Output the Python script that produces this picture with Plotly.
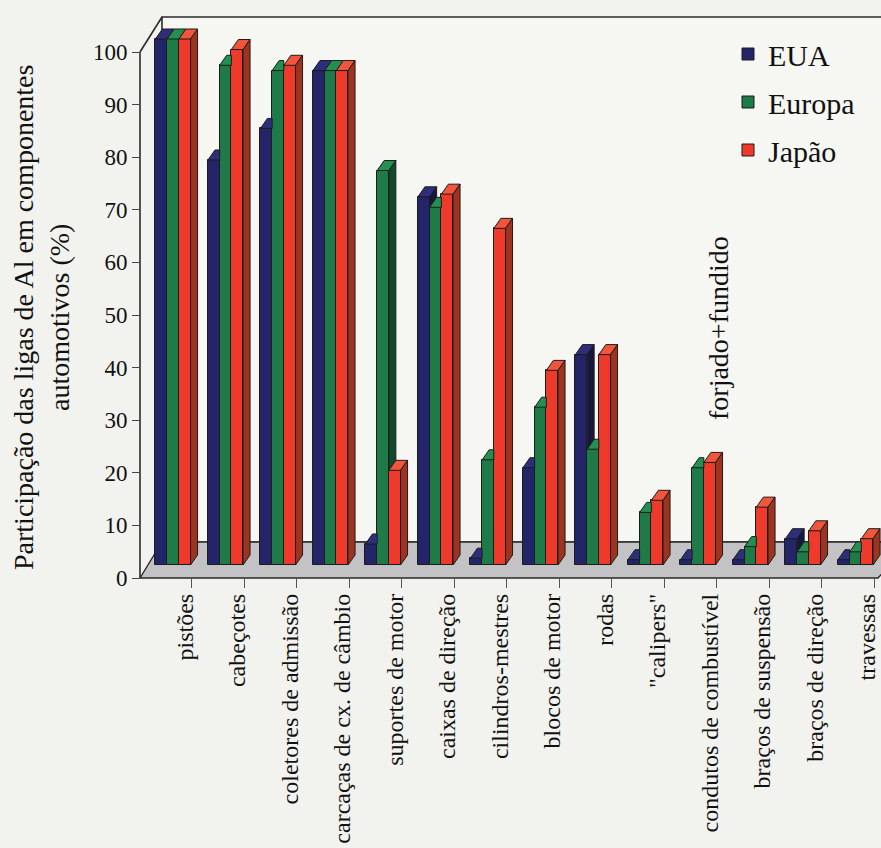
import plotly.graph_objects as go

# --- data -------------------------------------------------------------
categories = [
    "pistões", "cabeçotes", "coletores de admissão", "carcaças de cx. de câmbio",
    "suportes de motor", "caixas de direção", "cilindros-mestres", "blocos de motor",
    "rodas", "\"calipers\"", "condutos de combustível", "braços de suspensão",
    "braços de direção", "travessas",
]
eua = [100, 77, 83, 94, 4, 70, 1.3, 18.5, 40, 1, 1, 1, 5, 1]
europa = [100, 95, 94, 94, 75, 68, 20, 30, 22, 10, 18.5, 3.5, 2.5, 2.5]
japao = [100, 98, 95, 94, 18, 70.5, 64, 37, 40, 12.3, 19.5, 11, 6.5, 5]
series_names = ["EUA", "Europa", "Japão"]
y_ticks = list(range(0, 101, 10))

# --- styling ----------------------------------------------------------
FONT = "Liberation Serif"
BG = "#f2f2ee"
EDGE = "#1c1c1c"
front_col = ["#242468", "#1e7b47", "#ee3a2b"]
top_col = ["#2e2e7c", "#24904f", "#f1553c"]
side_col = ["#16163f", "#0f4a2a", "#9e3420"]

# canvas geometry (pixels)
W, H = 881, 848
L, R, T, B = 140, 0, 17, 270
plot_w, plot_h = W - L - R, H - T - B
x_unit = 52.5            # px per category
y_unit = 5.26            # px per percentage point
depth_x_px, depth_y_px = 7, 10   # bar depth (oblique projection)
floor_off = 13           # bars stand this many px behind the front edge

x0 = -33 / x_unit
x_range = [x0, x0 + plot_w / x_unit]
y0 = -floor_off / y_unit
y_range = [y0, y0 + plot_h / y_unit]

bar_w = 11.7 / x_unit
dx = depth_x_px / x_unit
dy = depth_y_px / y_unit
offsets = [-1.5 * bar_w + j * bar_w for j in range(3)]


def px(xp, yp):
    """pixel position -> paper coordinates"""
    return (xp - L) / plot_w, (H - B - yp) / plot_h


fig = go.Figure()
values = [eua, europa, japao]

# front faces
for j, (name, vals) in enumerate(zip(series_names, values)):
    fig.add_trace(go.Bar(
        x=list(range(len(categories))), y=vals, name=name,
        offset=offsets[j], width=bar_w,
        marker=dict(color=front_col[j], line=dict(color=EDGE, width=1)),
        legendgroup=name, showlegend=True, hoverinfo="y",
    ))

# top and side faces, derived from the same values
for j, vals in enumerate(values):
    tx, ty, sx, sy = [], [], [], []
    for i, v in enumerate(vals):
        xl = i + offsets[j]
        xr = xl + bar_w
        nxt = values[j + 1][i] if j < 2 else 0
        if j < 2 and nxt > v:
            # neighbour in front hides the right part of this top face
            tx += [xl, xr, xr, xl + dx, xl, None]
            ty += [v, v, v + dy, v + dy, v, None]
        else:
            tx += [xl, xr, xr + dx, xl + dx, xl, None]
            ty += [v, v, v + dy, v + dy, v, None]
        if v > nxt:
            sx += [xr, xr + dx, xr + dx, xr, xr, None]
            sy += [nxt, nxt + dy, v + dy, v, nxt, None]
    fig.add_trace(go.Scatter(x=tx, y=ty, mode="lines", fill="toself",
                             fillcolor=top_col[j], line=dict(color=EDGE, width=1),
                             showlegend=False, hoverinfo="skip"))
    if sx:
        fig.add_trace(go.Scatter(x=sx, y=sy, mode="lines", fill="toself",
                                 fillcolor=side_col[j], line=dict(color=EDGE, width=1),
                                 showlegend=False, hoverinfo="skip"))

# walls and floor of the 3-D box
shapes = []
bx0, by0 = px(L + 22, T)
bx1, by1 = px(W + 30, H - B - 36)
shapes.append(dict(type="rect", xref="paper", yref="paper", x0=bx0, y0=by1, x1=bx1, y1=by0,
                   fillcolor="#f6f6f2", line=dict(color="#2a2a2a", width=1.6), layer="below"))
f = [px(L, H - B), px(L + 22, H - B - 36), px(W + 30, H - B - 36), px(W - 3, H - B)]
path = "M {} {} L {} {} L {} {} L {} {} Z".format(*[c for p in f for c in p])
shapes.append(dict(type="path", xref="paper", yref="paper", path=path,
                   fillcolor="#c3c3c5", line=dict(color="#2a2a2a", width=1.4), layer="below"))
# front vertical axis and its oblique top
ax_top = px(L, T + 35)
shapes.append(dict(type="line", xref="paper", yref="paper", x0=0, y0=0, x1=0, y1=ax_top[1],
                   line=dict(color="#2a2a2a", width=1.6)))
shapes.append(dict(type="line", xref="paper", yref="paper", x0=0, y0=ax_top[1],
                   x1=bx0, y1=by0, line=dict(color="#2a2a2a", width=1.6)))

title_x, title_y = px(41, 318)
note_x, note_y = px(718, 328)
leg_x, leg_y = px(728, 28)

fig.update_layout(
    width=W, height=H,
    margin=dict(l=L, r=R, t=T, b=B, pad=0),
    paper_bgcolor=BG, plot_bgcolor="rgba(0,0,0,0)",
    barmode="overlay", bargap=0,
    font=dict(family=FONT, color="#111111"),
    shapes=shapes,
    showlegend=True,
    legend=dict(x=leg_x, y=leg_y, xanchor="left", yanchor="top",
                font=dict(family=FONT, size=30, color="#111111"),
                bgcolor="rgba(0,0,0,0)", tracegroupgap=6, itemwidth=30),
    xaxis=dict(range=x_range, showgrid=False, zeroline=False, showline=False,
               tickmode="array", tickvals=[i + 0.23 for i in range(len(categories))],
               ticktext=categories, tickangle=-90, ticks="",
               ticklabelstandoff=10,
               tickfont=dict(family=FONT, size=24, color="#111111"),
               minor=dict(tickmode="array", tickvals=[i + 0.36 for i in range(len(categories))],
                          ticks="outside", ticklen=9, tickcolor="#555555", tickwidth=1)),
    yaxis=dict(range=y_range, showgrid=False, zeroline=False, showline=False,
               tickmode="array", tickvals=[v - floor_off / y_unit for v in y_ticks],
               ticktext=[str(v) for v in y_ticks], ticks="outside", ticklen=7,
               tickcolor="#444444", tickwidth=1,
               tickfont=dict(family=FONT, size=23, color="#111111")),
    annotations=[
        dict(xref="paper", yref="paper", x=title_x, y=title_y, showarrow=False,
             text="Participação das ligas de Al em componentes<br>automotivos (%)",
             textangle=-90, font=dict(family=FONT, size=28, color="#111111"),
             xanchor="center", yanchor="middle", align="center"),
        dict(xref="paper", yref="paper", x=note_x, y=note_y, showarrow=False,
             text="forjado+fundido", textangle=-90,
             font=dict(family=FONT, size=28, color="#111111"),
             xanchor="center", yanchor="middle"),
    ],
)

fig.write_html("out.html")
